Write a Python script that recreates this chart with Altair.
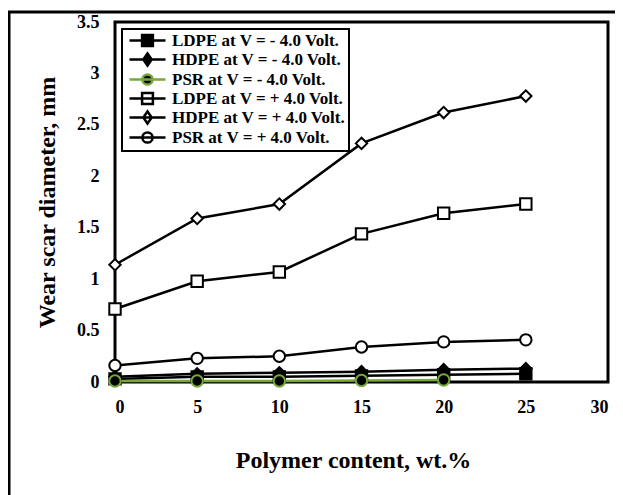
import altair as alt
import pandas as pd

# ---- data ----
x_vals = [0, 5, 10, 15, 20, 25]
ldpe_neg = [0.03, 0.05, 0.05, 0.06, 0.07, 0.08]
hdpe_neg = [0.05, 0.08, 0.09, 0.10, 0.12, 0.13]
psr_neg = [0.01, 0.01, 0.01, 0.015, 0.02]          # measured up to 20 wt.%
ldpe_pos = [0.71, 0.98, 1.07, 1.44, 1.64, 1.73]
hdpe_pos = [1.14, 1.59, 1.73, 2.32, 2.62, 2.78]
psr_pos = [0.16, 0.23, 0.25, 0.34, 0.39, 0.41]

series_names = [
    "LDPE at V = - 4.0 Volt.",
    "HDPE at V = - 4.0 Volt.",
    "PSR at V = - 4.0 Volt.",
    "LDPE at V = + 4.0 Volt.",
    "HDPE at V = + 4.0 Volt.",
    "PSR at V = + 4.0 Volt.",
]
series_values = [ldpe_neg, hdpe_neg, psr_neg, ldpe_pos, hdpe_pos, psr_pos]

x_ticks = [0, 5, 10, 15, 20, 25, 30]
y_ticks = [0, 0.5, 1, 1.5, 2, 2.5, 3, 3.5]

GREEN = "#78A83C"
stroke_range = ["black", "black", GREEN, "black", "black", "black"]
fill_range = ["black", "black", "black", "white", "white", "white"]
shape_range = ["square", "diamond", "circle", "square", "diamond", "circle"]
SQ = "M-4.5,0H4.5M-1.35,-1.35H1.35V1.35H-1.35Z"
DI = "M-4.5,0H4.5M0,-1.5L1.05,0L0,1.5L-1.05,0Z"
CI = "M-4.5,0H4.5M1.28,0A1.28,1.28,0,1,1,-1.28,0A1.28,1.28,0,1,1,1.28,0Z"
legend_shapes = [SQ, DI, CI, SQ, DI, CI]

rows = []
for name, vals in zip(series_names, series_values):
    for xv, yv in zip(x_vals, vals):
        rows.append({"x": xv, "y": yv, "series": name})
df = pd.DataFrame(rows)

FONT = "Liberation Serif"

x_enc = alt.X("x:Q", scale=alt.Scale(domain=[0, 30], nice=False),
              axis=alt.Axis(values=x_ticks, title="Polymer content, wt.%",
                            labelPadding=16, titlePadding=32, titleX=238))
y_enc = alt.Y("y:Q", scale=alt.Scale(domain=[0, 3.5], nice=False),
              axis=alt.Axis(values=y_ticks, title="Wear scar diameter, mm", format="~g",
                            labelPadding=16, titlePadding=17))

base = alt.Chart(df)

lines = base.mark_line(strokeWidth=2.5).encode(
    x=x_enc, y=y_enc,
    detail="series:N",
    stroke=alt.Stroke("series:N", scale=alt.Scale(domain=series_names, range=stroke_range), legend=None),
)

points = base.mark_point(filled=True, size=130, strokeWidth=2, opacity=1).encode(
    x=x_enc, y=y_enc,
    shape=alt.Shape("series:N", scale=alt.Scale(domain=series_names, range=shape_range), legend=None),
    fill=alt.Fill("series:N", scale=alt.Scale(domain=series_names, range=fill_range), legend=None),
    stroke=alt.Stroke("series:N", scale=alt.Scale(domain=series_names, range=stroke_range), legend=None),
)

leg = alt.Legend(title=None, orient="none", legendX=7, legendY=7)
legend_src = base.transform_filter("false").mark_point(
    filled=True, size=64, strokeWidth=2.5, opacity=1
).encode(
    x=x_enc, y=y_enc,
    shape=alt.Shape("series:N", scale=alt.Scale(domain=series_names, range=legend_shapes), legend=leg),
    fill=alt.Fill("series:N", scale=alt.Scale(domain=series_names, range=fill_range), legend=leg),
    stroke=alt.Stroke("series:N", scale=alt.Scale(domain=series_names, range=stroke_range), legend=leg),
)

frame = alt.Chart(pd.DataFrame({"a": [0]})).mark_rect(
    filled=False, stroke="black", strokeWidth=3
).encode(
    x=alt.value(-106), x2=alt.value(2000), y=alt.value(-10), y2=alt.value(2000)
)

chart = alt.layer(frame, lines, points, legend_src).resolve_scale(
    shape="independent", fill="independent", stroke="independent"
).properties(
    width=493, height=360,
    autosize=alt.AutoSizeParams(type="none"),
    padding={"left": 107, "top": 14, "right": 7, "bottom": 113},
    background="white",
).configure_view(
    stroke="black", strokeWidth=3
).configure_axis(
    labelFont=FONT, labelFontWeight="bold", labelFontSize=18, labelColor="black",
    titleFont=FONT, titleFontWeight="bold", titleFontSize=24, titleColor="black",
    ticks=False, domain=False, grid=False,
).configure_legend(
    labelFont=FONT, labelFontWeight="bold", labelFontSize=17, labelColor="black",
    strokeColor="black", strokeWidth=2, padding=3, rowPadding=-4.3, labelOffset=16,
    symbolOffset=14, fillColor="white", labelLimit=400, symbolSize=64,
    symbolStrokeWidth=2.5,
)

chart.save("out.html", embed_options={"renderer": "svg", "actions": False})
